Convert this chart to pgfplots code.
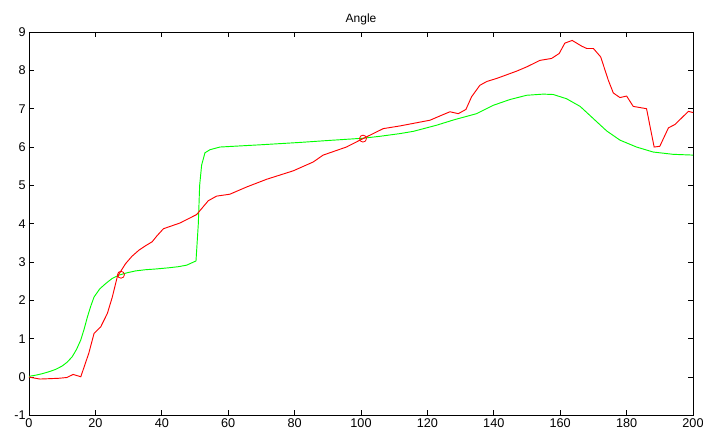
\documentclass[border=0pt]{standalone}
\usepackage{pgfplots}
\pgfplotsset{compat=1.18}
\usepackage{fontspec}
\setmainfont{Liberation Sans}
\begin{document}
\begin{tikzpicture}
\begin{axis}[
  name=ax,
  scale only axis,
  width=498pt, height=287.6pt,
  xmin=0, xmax=200, ymin=-1, ymax=9,
  xtick={0,20,...,200}, ytick={-1,0,...,9},
  tick align=inside,
  major tick length=4pt,
  tick style={black, line width=0.5pt},
  axis line style={black, line width=0.6pt},
  /pgf/number format/assume math mode=true,
  tick label style={font=\fontsize{9.5}{11}\selectfont},
  title={Angle},
  title style={font=\fontsize{9}{10}\selectfont, yshift=-4pt},
  xticklabel style={yshift=1pt},
  yticklabel style={xshift=1pt},
]
\addplot[color={rgb,255:red,0;green,255;blue,0}, line width=0.7pt] coordinates {
(0,0.02) (2,0.05) (4,0.09) (6,0.14) (8,0.2) (10,0.29) (11.5,0.39) (13,0.53) (14.3,0.72)
(15.6,0.97) (16.6,1.25) (17.6,1.57) (18.6,1.85) (19.6,2.09) (21.3,2.3) (23.1,2.44) (25,2.57) (27.1,2.66)
(29.5,2.72) (32.1,2.77) (35,2.8) (38.2,2.82) (42,2.85) (45,2.88) (47.5,2.92)
(50.3,3.03) (51.0,4.0) (51.4,5.0) (52,5.53) (53,5.85) (54.5,5.93)
(57.5,6.0) (70,6.06) (81.6,6.12) (90,6.17) (100.6,6.23) (105.7,6.28)
(111.7,6.35) (115.8,6.41) (122.8,6.57) (128,6.71) (134.8,6.87)
(139.9,7.09) (144.9,7.24) (149.9,7.35) (154.9,7.38) (157.9,7.37)
(161.9,7.26) (166,7.06) (170,6.74) (174,6.42) (178,6.18) (183,6.0)
(188,5.87) (194,5.81) (200,5.79)
};
\addplot[color=red, line width=0.7pt] coordinates {
(0,0) (3.3,-0.05) (6.3,-0.04) (9,-0.03) (11.4,-0.01) (13.3,0.07) (15.6,0.01)
(18,0.62) (19.6,1.14) (21.6,1.31) (23.6,1.66) (25.1,2.09) (26.6,2.62) (29.1,2.96)
(31,3.15) (33.1,3.31) (35,3.42) (37.1,3.53) (38.5,3.68) (40.5,3.87) (45.5,4.02) (50.5,4.24)
(54,4.6) (56.5,4.72) (60.5,4.77) (65.6,4.96) (71.6,5.16) (79.6,5.38)
(85.6,5.61) (88.6,5.79) (95.6,6.0) (100.6,6.22) (106.7,6.48) (111.7,6.55)
(120.8,6.70) (124.3,6.83) (126.8,6.92) (129.3,6.87) (131.6,6.98)
(133.3,7.31) (135.8,7.61) (137.9,7.71) (140.9,7.79) (146.9,7.98)
(149.9,8.09) (153.9,8.26) (157.4,8.31) (159.7,8.44) (161.4,8.71)
(163.6,8.78) (166.5,8.63) (168,8.57) (170,8.57) (172.2,8.35) (174.5,7.74)
(176,7.41) (178,7.29) (180,7.33) (182,7.06) (186,7.0) (188.3,6.0)
(190,6.02) (192.6,6.5) (194.6,6.59) (198.6,6.93) (200,6.9)
};
\addplot[only marks, mark=o, mark size=2.6pt, color=red, mark options={line width=0.6pt}] coordinates {
(27.7,2.67) (100.6,6.22)
};
\end{axis}
\pgfresetboundingbox
\path ([xshift=-21.75pt,yshift=-12.4pt]ax.south west) rectangle ([xshift=505.5pt,yshift=311.6pt]ax.south west);
\end{tikzpicture}
\end{document}
